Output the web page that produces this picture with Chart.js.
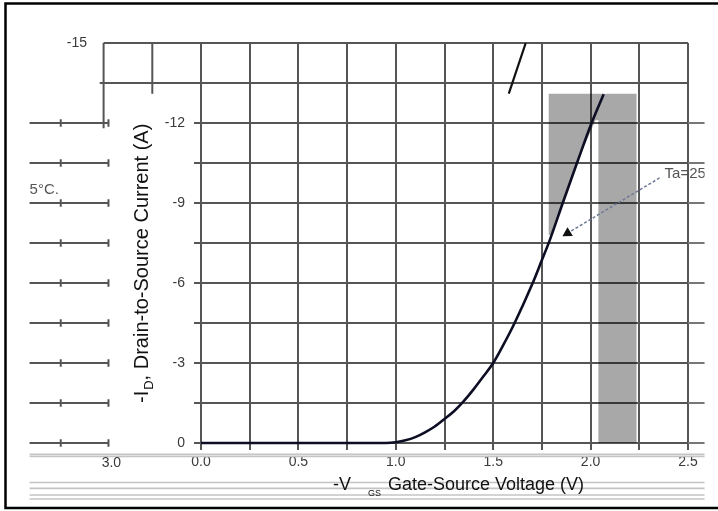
<!DOCTYPE html>
<html>
<head>
<meta charset="utf-8">
<script src="https://cdn.jsdelivr.net/npm/chart.js@4.4.0/dist/chart.umd.min.js"></script>
<style>
  html, body { margin: 0; padding: 0; background: #fff; }
  canvas { display: block; }
</style>
</head>
<body>
<canvas id="chart" width="718" height="511"></canvas>
<script>
// Transfer characteristic: -ID versus -VGS at Ta = 25 °C
const vgs     = [0, 0.5, 0.95, 1.0, 1.05, 1.1, 1.15, 1.2, 1.25, 1.3, 1.35, 1.4, 1.45, 1.5, 1.55, 1.61, 1.7, 1.75, 1.79, 1.857, 1.93, 2.005, 2.067];
const idDrain = [0, 0, 0, -0.03, -0.1, -0.22, -0.4, -0.62, -0.9, -1.2, -1.58, -2.02, -2.5, -3.0, -3.65, -4.5, -5.95, -6.86, -7.6, -9.0, -10.5, -12.0, -13.08];

// Short stray stroke in the upper band
const strayV = [1.58, 1.667];
const strayI = [-13.1, -15];

// Shaded areas
const shadeAV = [1.785, 2.236, 2.236, 2.025, 1.93, 1.857, 1.80, 1.785];
const shadeAI = [-13.1, -13.1, -12.1, -12.1, -10.5, -9.0, -7.8, -7.8];
const shadeBV = [2.04, 2.236, 2.236, 2.04];
const shadeBI = [-12.1, -12.1, 0.3, 0.3];

// Leader from the temperature note to the curve
const leaderV = [2.354, 1.882];
const leaderI = [-9.94, -7.87];

// Grid rows continued outside the plot on both sides
const gridRows    = [0, -1.5, -3, -4.5, -6, -7.5, -9, -10.5, -12];
const leftRowEnds = [-0.475, -0.88];
const leftRowTicks = [-0.475, -0.72];
const rightRowV   = [2.5, 2.585];

// Upper-left continuation of the grid
const upperLines = [
  { v: [-0.5, 0],      i: [-15, -15] },
  { v: [-0.52, 0],     i: [-13.5, -13.5] },
  { v: [-0.5, -0.5],   i: [-15, -11.8] },
  { v: [-0.25, -0.25], i: [-15, -13.1] }
];

// Faint rules under the axis
const ruleI = [0.42, 0.5, 1.48, 1.7, 1.95, 2.1];
const ruleV = [2.585, -0.88];

// Axis texts
const xTitleMain = 'Gate-Source Voltage (V)';
const yTitleMain = ', Drain-to-Source Current (A)';
const noteText = 'Ta=25°C.';
const noteTail = '5°C.';
const topTick = '-15';
const leftTick = '3.0';

const FONT = '"Liberation Sans", Arial, Helvetica, sans-serif';
const GRID = '#555555';
const GAP = { x: null, y: null };

const pts = (xs, ys) => xs.map((x, k) => ({ x, y: ys[k] }));

const datasets = [];

datasets.push({
  label: 'shadeA', data: pts(shadeAV, shadeAI), showLine: true, fill: 'shape',
  backgroundColor: 'rgba(0,0,0,0.34)', borderWidth: 0, pointRadius: 0, order: 5
});
datasets.push({
  label: 'shadeB', data: pts(shadeBV, shadeBI), showLine: true, fill: 'shape',
  backgroundColor: 'rgba(0,0,0,0.34)', borderWidth: 0, pointRadius: 0, order: 5, clip: false
});

gridRows.forEach(r => {
  // row line followed by its two small tick marks
  const data = leftRowEnds.map(v => ({ x: v, y: r }));
  leftRowTicks.forEach(v => {
    data.push(GAP, { x: v, y: r - 0.14 }, { x: v, y: r + 0.14 });
  });
  datasets.push({
    label: 'left row', data, showLine: true, spanGaps: false,
    borderColor: GRID, borderWidth: 2, pointRadius: 0, clip: false, order: 4
  });
  datasets.push({
    label: 'right row', data: rightRowV.map(v => ({ x: v, y: r })), showLine: true,
    borderColor: '#777', borderWidth: 2, pointRadius: 0, clip: false, order: 4
  });
});

upperLines.forEach(s => {
  datasets.push({
    label: 'upper grid', data: pts(s.v, s.i), showLine: true,
    borderColor: GRID, borderWidth: 2, pointRadius: 0, clip: false, order: 4
  });
});

ruleI.forEach(r => {
  datasets.push({
    label: 'rule', data: ruleV.map(v => ({ x: v, y: r })), showLine: true,
    borderColor: '#c4c4c4', borderWidth: 1.6, pointRadius: 0, clip: false, order: 6
  });
});

datasets.push({
  label: 'leader', data: pts(leaderV, leaderI), showLine: true,
  borderColor: '#6f7896', borderWidth: 1.5, borderDash: [3, 2],
  pointRadius: [0, 4.5], pointStyle: 'triangle', rotation: 239,
  pointBackgroundColor: '#111', pointBorderColor: '#111', order: 2
});

datasets.push({
  label: 'stray', data: pts(strayV, strayI), showLine: true,
  borderColor: '#111', borderWidth: 2.2, pointRadius: 0, order: 1
});

datasets.push({
  label: '-ID', data: pts(vgs, idDrain), showLine: true,
  borderColor: '#0d0d24', borderWidth: 2.6, cubicInterpolationMode: 'monotone',
  pointRadius: 0, order: 0, clip: false
});

// Titles with subscripts, outer frame and free-standing notes
const decorations = {
  id: 'decorations',
  afterDraw(chart) {
    const { ctx, scales: { x, y } } = chart;
    ctx.save();

    // frame
    ctx.strokeStyle = '#000';
    ctx.lineWidth = 2.5;
    ctx.beginPath();
    ctx.moveTo(718, 3.5);
    ctx.lineTo(5.5, 3.5);
    ctx.lineTo(5.5, 508);
    ctx.lineTo(718, 508);
    ctx.stroke();

    // x axis title: -V_GS, Gate-Source Voltage (V)
    ctx.fillStyle = '#111';
    ctx.textBaseline = 'alphabetic';
    ctx.textAlign = 'left';
    ctx.font = '18px ' + FONT;
    ctx.fillText('-V', 333, 490);
    ctx.font = '9px ' + FONT;
    ctx.fillText('GS', 368, 496);
    ctx.font = '18px ' + FONT;
    ctx.fillText(xTitleMain, 388, 490);

    // y axis title: -I_D, Drain-to-Source Current (A)
    ctx.save();
    ctx.translate(148, 403);
    ctx.rotate(-Math.PI / 2);
    ctx.font = '20px ' + FONT;
    ctx.fillText('-I', 0, 0);
    let w = ctx.measureText('-I').width;
    ctx.font = '13px ' + FONT;
    ctx.fillText('D', w + 1, 5);
    w += ctx.measureText('D').width + 1;
    ctx.font = '20px ' + FONT;
    ctx.fillText(yTitleMain, w, 0);
    ctx.restore();

    // labels that sit off the main axes
    ctx.fillStyle = '#3a3a3a';
    ctx.font = '14px ' + FONT;
    ctx.textBaseline = 'middle';
    ctx.textAlign = 'right';
    ctx.fillText(topTick, x.getPixelForValue(-0.585), y.getPixelForValue(-15));
    ctx.textAlign = 'center';
    ctx.fillText(leftTick, x.getPixelForValue(-0.46), y.getPixelForValue(0) + 20);
    ctx.textAlign = 'left';
    ctx.font = '15px ' + FONT;
    ctx.fillStyle = '#555';
    ctx.fillText(noteTail, x.getPixelForValue(-0.88), y.getPixelForValue(-9.5));

    // temperature note, cut at the right edge of the rows
    ctx.save();
    ctx.beginPath();
    ctx.rect(0, 0, x.getPixelForValue(2.585), 511);
    ctx.clip();
    ctx.fillStyle = '#555';
    ctx.font = '15px ' + FONT;
    ctx.fillText(noteText, x.getPixelForValue(2.38), y.getPixelForValue(-10.1));
    ctx.restore();

    ctx.restore();
  }
};

new Chart(document.getElementById('chart'), {
  type: 'scatter',
  data: { datasets },
  options: {
    responsive: false,
    animation: false,
    events: [],
    layout: { padding: { left: 0, top: 43, right: 30, bottom: 0 } },
    plugins: { legend: { display: false }, tooltip: { enabled: false } },
    scales: {
      x: {
        type: 'linear', min: 0, max: 2.5,
        afterFit(s) { s.height = 68; },
        ticks: {
          stepSize: 0.25, autoSkip: false, maxRotation: 0, padding: 4,
          color: '#3a3a3a', font: { family: FONT, size: 14 },
          callback(v) { return Math.round(v * 100) % 50 === 0 ? Number(v).toFixed(1) : ''; }
        },
        grid: { color: GRID, lineWidth: 2, tickLength: 7 },
        border: { color: GRID, width: 2 }
      },
      y: {
        type: 'linear', min: -15, max: 0, reverse: true,
        afterFit(s) { s.width = 201; },
        ticks: {
          stepSize: 1.5, autoSkip: false, padding: 9,
          color: '#3a3a3a', font: { family: FONT, size: 14 },
          callback(v) {
            const t = Math.round(v * 10);
            return (t % 30 === 0 && t >= -120) ? String(Math.round(v) || 0) : '';
          }
        },
        grid: { color: GRID, lineWidth: 2, tickLength: 7 },
        border: { color: GRID, width: 2 }
      }
    }
  },
  plugins: [decorations]
});
</script>
</body>
</html>
